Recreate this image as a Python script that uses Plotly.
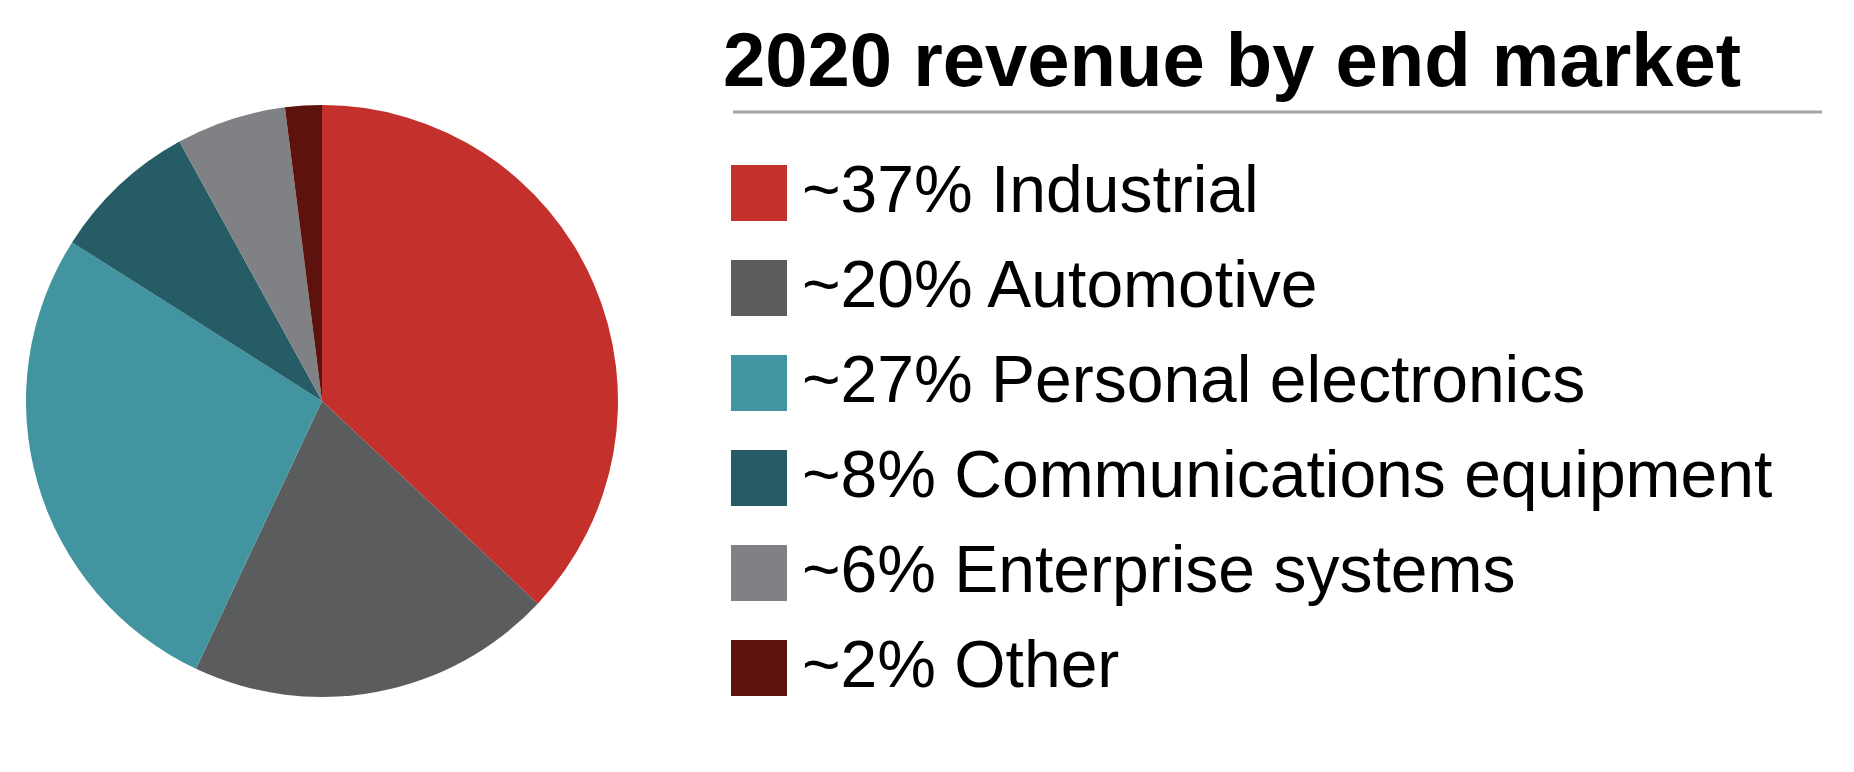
import plotly.graph_objects as go

categories = ["Industrial", "Automotive", "Personal electronics",
              "Communications equipment", "Enterprise systems", "Other"]
shares = [37, 20, 27, 8, 6, 2]
colors = ["#C4312D", "#5B5C5E", "#4295A0", "#265C65", "#808184", "#5E120E"]
title_text = "2020 revenue by end market"

W, H = 1854, 772
fig = go.Figure()

cx, cy, r = 322, 401, 296
fig.add_trace(go.Pie(
    labels=categories, values=shares, sort=False, direction="clockwise",
    rotation=0, marker=dict(colors=colors, line=dict(width=0)),
    textinfo="none", hoverinfo="label+percent", showlegend=False,
    domain=dict(x=[(cx - r) / W, (cx + r) / W], y=[(H - cy - r) / H, (H - cy + r) / H]),
))

annotations = [dict(
    text="<b>" + title_text + "</b>", x=721 / W, y=1 - 59 / H, xref="paper", yref="paper",
    xanchor="left", yanchor="middle", showarrow=False,
    font=dict(family="Liberation Sans", size=76, color="#000000"),
)]
shapes = [dict(type="line", xref="paper", yref="paper",
               x0=733 / W, x1=1822 / W, y0=1 - 112 / H, y1=1 - 112 / H,
               line=dict(color="#A3A3A3", width=3))]

row0, step = 193, 95
for i, (cat, val, col) in enumerate(zip(categories, shares, colors)):
    yc = row0 + i * step
    shapes.append(dict(type="rect", xref="paper", yref="paper",
                       x0=731 / W, x1=787 / W, y0=1 - (yc - 28) / H, y1=1 - (yc + 28) / H,
                       fillcolor=col, line=dict(width=0)))
    annotations.append(dict(
        text=f"~{val}% {cat}", x=800 / W, y=1 - (yc - 4) / H, xref="paper", yref="paper",
        xanchor="left", yanchor="middle", showarrow=False,
        font=dict(family="Liberation Sans", size=66, color="#000000"),
    ))

fig.update_layout(
    width=W, height=H, margin=dict(l=0, r=0, t=0, b=0),
    paper_bgcolor="white", plot_bgcolor="white",
    annotations=annotations, shapes=shapes,
)
fig.write_html("out.html")
